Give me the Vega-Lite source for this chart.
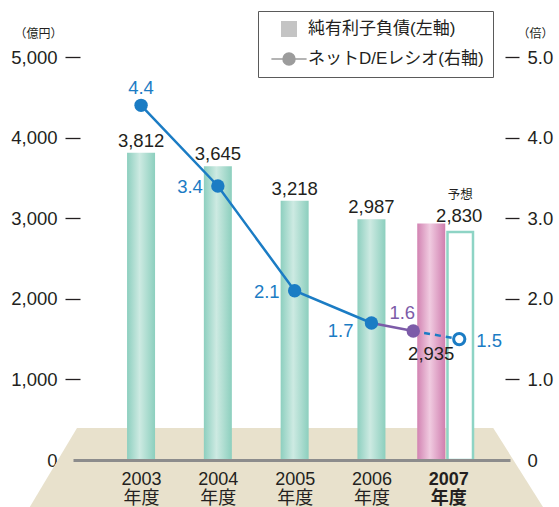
{
  "$schema": "https://vega.github.io/schema/vega-lite/v6.json",
  "width": 437,
  "height": 403,
  "autosize": {"type": "none"},
  "padding": {"left": 73, "top": 57, "right": 49, "bottom": 47},
  "background": "white",
  "config": {
    "font": "Liberation Sans, 'Noto Sans CJK JP', sans-serif",
    "view": {"stroke": null}
  },
  "datasets": {
    "純有利子負債": [
      {"年度": 2003, "区分": "実績", "純有利子負債": 3812},
      {"年度": 2004, "区分": "実績", "純有利子負債": 3645},
      {"年度": 2005, "区分": "実績", "純有利子負債": 3218},
      {"年度": 2006, "区分": "実績", "純有利子負債": 2987},
      {"年度": 2007, "区分": "実績", "純有利子負債": 2935},
      {"年度": 2007, "区分": "予想", "純有利子負債": 2830}
    ],
    "DEレシオ": [
      {"年度": 2003, "区分": "実績", "DEレシオ": 4.4},
      {"年度": 2004, "区分": "実績", "DEレシオ": 3.4},
      {"年度": 2005, "区分": "実績", "DEレシオ": 2.1},
      {"年度": 2006, "区分": "実績", "DEレシオ": 1.7},
      {"年度": 2007, "区分": "実績", "DEレシオ": 1.6},
      {"年度": 2007, "区分": "予想", "DEレシオ": 1.5}
    ],
    "床": [
      {"高さ": 397, "左端": 2002.166, "右端": 2007.586},
      {"高さ": -744, "左端": 2001.45, "右端": 2008.34}
    ],
    "凡例": [
      {"系列": "純有利子負債(左軸)"},
      {"系列": "ネットD/Eレシオ(右軸)"}
    ]
  },
  "layer": [
    {
      "layer": [
        {
          "data": {"name": "床"},
          "mark": {"type": "area", "orient": "horizontal", "color": "#e8e1cc"},
          "encoding": {
            "y": {
              "field": "高さ", "type": "quantitative",
              "scale": {"domain": [0, 5000], "nice": false, "zero": false},
              "axis": {
                "orient": "left",
                "values": [0, 1000, 2000, 3000, 4000, 5000],
                "labelExpr": "format(datum.value, ',.0f')",
                "offset": -7,
                "domain": false,
                "grid": false,
                "tickSize": 15,
                "tickWidth": 1.3,
                "tickColor": "#231f20",
                "tickOpacity": {"condition": {"test": "datum.value === 0", "value": 0}, "value": 1},
                "labelPadding": 8,
                "labelFontSize": 18.5,
                "labelColor": "#231f20",
                "title": "（億円）",
                "titleAngle": 0,
                "titleAlign": "right",
                "titleBaseline": "middle",
                "titleX": -18,
                "titleY": -24,
                "titleFontSize": 12,
                "titleFontWeight": "normal",
                "titleColor": "#231f20"
              }
            },
            "x": {
              "field": "左端", "type": "quantitative",
              "scale": {"domain": [2002.179, 2007.739], "nice": false, "zero": false},
              "axis": {
                "orient": "bottom",
                "values": [2003, 2004, 2005, 2006, 2007],
                "labelExpr": "[toString(datum.value), '年度']",
                "labelFontWeight": {"condition": {"test": "datum.value === 2007", "value": "bold"}, "value": "normal"},
                "ticks": false,
                "grid": false,
                "labelPadding": 10,
                "labelFontSize": 18,
                "labelLineHeight": 19,
                "labelColor": "#231f20",
                "labelFlush": false,
                "labelOverlap": false,
                "domainColor": "#8c8c8c",
                "domainWidth": 3,
                "zindex": 1,
                "title": null
              }
            },
            "x2": {"field": "右端"}
          }
        },
        {
          "data": {"name": "純有利子負債"},
          "transform": [{"filter": "datum['年度'] < 2007"}],
          "mark": {
            "type": "bar", "orient": "vertical", "width": 28,
            "color": {
              "gradient": "linear", "x1": 0, "x2": 1, "y1": 0, "y2": 0,
              "stops": [
                {"offset": 0, "color": "#8dcfbf"},
                {"offset": 0.45, "color": "#cdeae2"},
                {"offset": 1, "color": "#8ccfbe"}
              ]
            }
          },
          "encoding": {
            "x": {"field": "年度", "type": "quantitative"},
            "y": {"field": "純有利子負債", "type": "quantitative"}
          }
        },
        {
          "data": {"name": "純有利子負債"},
          "transform": [{"filter": "datum['年度'] === 2007 && datum['区分'] === '実績'"}],
          "mark": {
            "type": "bar", "orient": "vertical", "width": 28, "xOffset": -17,
            "color": {
              "gradient": "linear", "x1": 0, "x2": 1, "y1": 0, "y2": 0,
              "stops": [
                {"offset": 0, "color": "#d283b2"},
                {"offset": 0.45, "color": "#f0cbe0"},
                {"offset": 1, "color": "#d07eaf"}
              ]
            }
          },
          "encoding": {
            "x": {"field": "年度", "type": "quantitative"},
            "y": {"field": "純有利子負債", "type": "quantitative"}
          }
        },
        {
          "data": {"name": "純有利子負債"},
          "transform": [{"filter": "datum['区分'] === '予想'"}],
          "mark": {
            "type": "bar", "orient": "vertical", "width": 25.5, "xOffset": 12,
            "fill": "white", "stroke": "#8ed4c5", "strokeWidth": 2.5
          },
          "encoding": {
            "x": {"field": "年度", "type": "quantitative"},
            "y": {"field": "純有利子負債", "type": "quantitative"}
          }
        },
        {
          "data": {"name": "純有利子負債"},
          "transform": [{"filter": "datum['年度'] < 2007"}],
          "mark": {"type": "text", "fontSize": 18.5, "color": "#231f20", "align": "center", "baseline": "alphabetic", "dy": -6},
          "encoding": {
            "x": {"field": "年度", "type": "quantitative"},
            "y": {"field": "純有利子負債", "type": "quantitative"},
            "text": {"field": "純有利子負債", "type": "quantitative", "format": ","}
          }
        },
        {
          "data": {"name": "純有利子負債"},
          "transform": [{"filter": "datum['年度'] === 2007 && datum['区分'] === '実績'"}],
          "mark": {"type": "text", "fontSize": 18.5, "color": "#231f20", "align": "center", "baseline": "alphabetic", "dx": -17, "dy": 137},
          "encoding": {
            "x": {"field": "年度", "type": "quantitative"},
            "y": {"field": "純有利子負債", "type": "quantitative"},
            "text": {"field": "純有利子負債", "type": "quantitative", "format": ","}
          }
        },
        {
          "data": {"name": "純有利子負債"},
          "transform": [{"filter": "datum['区分'] === '予想'"}],
          "mark": {"type": "text", "fontSize": 18.5, "color": "#231f20", "align": "center", "baseline": "alphabetic", "dx": 11, "dy": -9.5},
          "encoding": {
            "x": {"field": "年度", "type": "quantitative"},
            "y": {"field": "純有利子負債", "type": "quantitative"},
            "text": {"field": "純有利子負債", "type": "quantitative", "format": ","}
          }
        },
        {
          "data": {"name": "純有利子負債"},
          "transform": [{"filter": "datum['区分'] === '予想'"}],
          "mark": {"type": "text", "fontSize": 12.5, "color": "#231f20", "align": "center", "baseline": "alphabetic", "dx": 12, "dy": -33},
          "encoding": {
            "x": {"field": "年度", "type": "quantitative"},
            "y": {"field": "純有利子負債", "type": "quantitative"},
            "text": {"field": "区分", "type": "nominal"}
          }
        }
      ]
    },
    {
      "data": {"name": "DEレシオ"},
      "transform": [
        {
          "window": [
            {"op": "lead", "field": "年度", "as": "次年度"},
            {"op": "lead", "field": "DEレシオ", "as": "次DE"}
          ],
          "sort": [{"field": "年度", "order": "ascending"}, {"field": "区分", "order": "descending"}]
        }
      ],
      "layer": [
        {
          "transform": [{"filter": "datum['年度'] <= 2006"}],
          "mark": {"type": "line", "color": "#1b7cc4", "strokeWidth": 2.5},
          "encoding": {
            "x": {"field": "年度", "type": "quantitative"},
            "y": {
              "field": "DEレシオ", "type": "quantitative",
              "scale": {"domain": [0, 5], "nice": false, "zero": false},
              "axis": {
                "orient": "right",
                "values": [0, 1, 2, 3, 4, 5],
                "labelExpr": "datum.value === 0 ? '0' : format(datum.value, '.1f')",
                "offset": -5,
                "domain": false,
                "grid": false,
                "tickSize": 14,
                "tickWidth": 1.3,
                "tickColor": "#231f20",
                "tickOpacity": {"condition": {"test": "datum.value === 0", "value": 0}, "value": 1},
                "labelPadding": 8,
                "labelFontSize": 18.5,
                "labelColor": "#231f20",
                "title": "（倍）",
                "titleAngle": 0,
                "titleAlign": "left",
                "titleBaseline": "middle",
                "titleX": 12,
                "titleY": -24,
                "titleFontSize": 12,
                "titleFontWeight": "normal",
                "titleColor": "#231f20"
              }
            }
          }
        },
        {
          "transform": [{"filter": "datum['年度'] === 2006"}],
          "mark": {"type": "rule", "color": "#7c5ba8", "strokeWidth": 2.5, "x2Offset": -35},
          "encoding": {
            "x": {"field": "年度", "type": "quantitative"},
            "y": {"field": "DEレシオ", "type": "quantitative"},
            "x2": {"field": "次年度"},
            "y2": {"field": "次DE"}
          }
        },
        {
          "transform": [{"filter": "datum['年度'] === 2007 && datum['区分'] === '実績'"}],
          "mark": {"type": "rule", "color": "#1b7cc4", "strokeWidth": 2.5, "strokeDash": [6, 5], "xOffset": -35, "x2Offset": 11},
          "encoding": {
            "x": {"field": "年度", "type": "quantitative"},
            "y": {"field": "DEレシオ", "type": "quantitative"},
            "x2": {"field": "次年度"},
            "y2": {"field": "次DE"}
          }
        },
        {
          "transform": [{"filter": "datum['年度'] <= 2006"}],
          "mark": {"type": "point", "shape": "circle", "filled": true, "size": 180, "color": "#1b7cc4", "opacity": 1},
          "encoding": {
            "x": {"field": "年度", "type": "quantitative"},
            "y": {"field": "DEレシオ", "type": "quantitative"}
          }
        },
        {
          "transform": [{"filter": "datum['年度'] === 2007 && datum['区分'] === '実績'"}],
          "mark": {"type": "point", "shape": "circle", "filled": true, "size": 180, "color": "#7c5ba8", "opacity": 1, "xOffset": -35},
          "encoding": {
            "x": {"field": "年度", "type": "quantitative"},
            "y": {"field": "DEレシオ", "type": "quantitative"}
          }
        },
        {
          "transform": [{"filter": "datum['区分'] === '予想'"}],
          "mark": {"type": "point", "shape": "circle", "size": 127, "fill": "white", "stroke": "#1b7cc4", "strokeWidth": 3, "opacity": 1, "xOffset": 11},
          "encoding": {
            "x": {"field": "年度", "type": "quantitative"},
            "y": {"field": "DEレシオ", "type": "quantitative"}
          }
        },
        {
          "transform": [{"filter": "datum['年度'] === 2003"}],
          "mark": {"type": "text", "fontSize": 18.5, "color": "#1b7cc4", "align": "center", "baseline": "middle", "dy": -17},
          "encoding": {
            "x": {"field": "年度", "type": "quantitative"},
            "y": {"field": "DEレシオ", "type": "quantitative"},
            "text": {"field": "DEレシオ", "type": "quantitative", "format": ".1f"}
          }
        },
        {
          "transform": [{"filter": "datum['年度'] === 2004 || datum['年度'] === 2005"}],
          "mark": {"type": "text", "fontSize": 18.5, "color": "#1b7cc4", "align": "right", "baseline": "middle", "dx": -15, "dy": 1},
          "encoding": {
            "x": {"field": "年度", "type": "quantitative"},
            "y": {"field": "DEレシオ", "type": "quantitative"},
            "text": {"field": "DEレシオ", "type": "quantitative", "format": ".1f"}
          }
        },
        {
          "transform": [{"filter": "datum['年度'] === 2006"}],
          "mark": {"type": "text", "fontSize": 18.5, "color": "#1b7cc4", "align": "right", "baseline": "middle", "dx": -18, "dy": 8},
          "encoding": {
            "x": {"field": "年度", "type": "quantitative"},
            "y": {"field": "DEレシオ", "type": "quantitative"},
            "text": {"field": "DEレシオ", "type": "quantitative", "format": ".1f"}
          }
        },
        {
          "transform": [{"filter": "datum['年度'] === 2007 && datum['区分'] === '実績'"}],
          "mark": {"type": "text", "fontSize": 18.5, "color": "#7c5ba8", "align": "center", "baseline": "middle", "dx": -46, "dy": -18},
          "encoding": {
            "x": {"field": "年度", "type": "quantitative"},
            "y": {"field": "DEレシオ", "type": "quantitative"},
            "text": {"field": "DEレシオ", "type": "quantitative", "format": ".1f"}
          }
        },
        {
          "transform": [{"filter": "datum['区分'] === '予想'"}],
          "mark": {"type": "text", "fontSize": 18.5, "color": "#1b7cc4", "align": "left", "baseline": "middle", "dx": 28, "dy": 2},
          "encoding": {
            "x": {"field": "年度", "type": "quantitative"},
            "y": {"field": "DEレシオ", "type": "quantitative"},
            "text": {"field": "DEレシオ", "type": "quantitative", "format": ".1f"}
          }
        }
      ]
    },
    {
      "data": {"name": "凡例"},
      "mark": {"type": "point", "filled": true, "opacity": 0, "strokeWidth": 2.5},
      "encoding": {
        "fill": {
          "field": "系列", "type": "nominal",
          "scale": {
            "domain": ["純有利子負債(左軸)", "ネットD/Eレシオ(右軸)"],
            "range": ["#c4c4c4", "#9c9c9c"]
          },
          "legend": {
            "orient": "none", "legendX": 185, "legendY": -46, "title": null,
            "fillColor": "white", "strokeColor": "#5a5a5a", "padding": 9,
            "symbolOffset": 13, "symbolSize": 256, "symbolOpacity": 1, "labelOffset": 10,
            "rowPadding": 10, "labelFontSize": 17, "labelColor": "#231f20", "labelLimit": 400
          }
        },
        "shape": {
          "field": "系列", "type": "nominal",
          "scale": {
            "domain": ["純有利子負債(左軸)", "ネットD/Eレシオ(右軸)"],
            "range": ["square", "M-2.2,0H-0.75M0.75,0H2.2M0.75,0A0.75,0.75,0,1,1,-0.75,0A0.75,0.75,0,1,1,0.75,0"]
          },
          "legend": {
            "orient": "none", "legendX": 185, "legendY": -46, "title": null,
            "fillColor": "white", "strokeColor": "#5a5a5a", "padding": 9,
            "symbolOffset": 13, "symbolSize": 256, "symbolOpacity": 1, "labelOffset": 10,
            "rowPadding": 10, "labelFontSize": 17, "labelColor": "#231f20", "labelLimit": 400
          }
        },
        "stroke": {
          "field": "系列", "type": "nominal",
          "scale": {
            "domain": ["純有利子負債(左軸)", "ネットD/Eレシオ(右軸)"],
            "range": ["transparent", "#9c9c9c"]
          },
          "legend": {
            "orient": "none", "legendX": 185, "legendY": -46, "title": null,
            "fillColor": "white", "strokeColor": "#5a5a5a", "padding": 9,
            "symbolOffset": 13, "symbolSize": 256, "symbolOpacity": 1, "labelOffset": 10,
            "rowPadding": 10, "labelFontSize": 17, "labelColor": "#231f20", "labelLimit": 400
          }
        }
      }
    }
  ],
  "resolve": {"scale": {"y": "independent"}}
}
